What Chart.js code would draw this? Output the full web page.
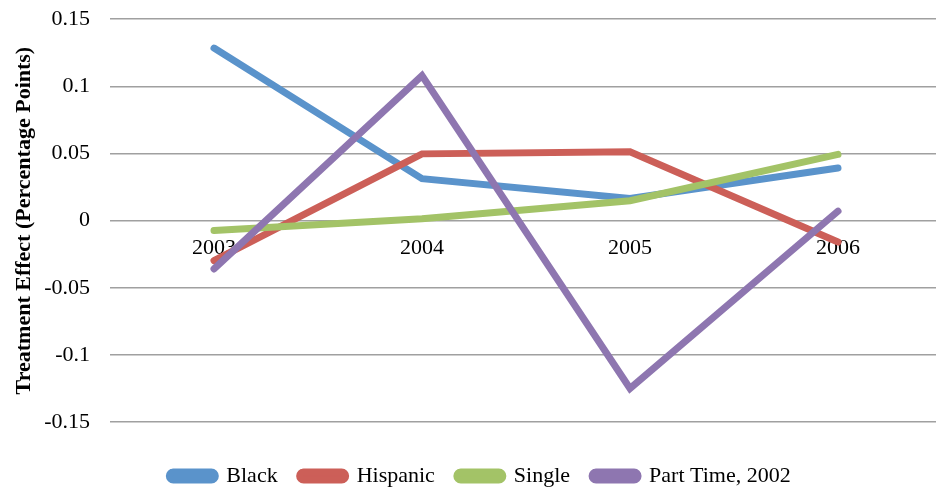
<!DOCTYPE html>
<html>
<head>
<meta charset="utf-8">
<script src="https://cdn.jsdelivr.net/npm/chart.js@4/dist/chart.umd.min.js"></script>
<style>
  html, body { margin: 0; padding: 0; background: #ffffff; overflow: hidden; }
  #wrap { position: relative; width: 944px; height: 511px; margin-top: -14px; }
</style>
</head>
<body>
<div id="wrap"><canvas id="chart"></canvas></div>
<script>
// Years on the category axis
const years = ['2003', '2004', '2005', '2006'];

// Estimated treatment effects by subgroup
const black    = [0.1285, 0.0312, 0.0165, 0.0392];
const hispanic = [-0.0298, 0.0497, 0.0512, -0.0160];
const single   = [-0.0074, 0.0014, 0.0148, 0.0493];
const partTime = [-0.0360, 0.1080, -0.1250, 0.0070];

// Value-axis ticks
const yTicks = [-0.15, -0.1, -0.05, 0, 0.05, 0.1, 0.15];

const serif = "'Liberation Serif', 'Times New Roman', serif";

function series(label, data, color, order) {
  return {
    label, data, order,
    borderColor: color,
    backgroundColor: color,
    borderWidth: 7,
    borderCapStyle: 'round',
    borderJoinStyle: 'miter',
    pointRadius: 0,
    pointHoverRadius: 0,
    tension: 0,
    fill: false
  };
}

// Nudge the legend row slightly to the right of the canvas centre
const legendNudge = {
  id: 'legendNudge',
  afterLayout(chart) {
    if (chart.legend) {
      chart.legend.left += 9;
      chart.legend.right += 9;
    }
  }
};

new Chart(document.getElementById('chart'), {
  type: 'line',
  data: {
    labels: years,
    datasets: [
      series('Black', black, '#5A93CB', 4),
      series('Hispanic', hispanic, '#CC5F58', 3),
      series('Single', single, '#A3C367', 2),
      series('Part Time, 2002', partTime, '#8E76B0', 1)
    ]
  },
  plugins: [legendNudge],
  options: {
    responsive: true,
    maintainAspectRatio: false,
    animation: false,
    layout: { padding: { top: 3, right: 2, bottom: 0, left: 0 } },
    plugins: {
      tooltip: { enabled: false },
      legend: {
        position: 'bottom',
        title: {
          display: true,
          text: ' ',
          font: { size: 10 },
          padding: 4.5
        },
        labels: {
          font: { family: serif, size: 22, lineHeight: 1 },
          color: '#000000',
          boxWidth: 46,
          boxHeight: 8,
          useBorderRadius: true,
          borderRadius: 4,
          padding: 22,
          sort: (a, b) => a.datasetIndex - b.datasetIndex
        }
      }
    },
    scales: {
      x: {
        type: 'category',
        position: { y: 0 },
        offset: true,
        grid: { display: false, drawTicks: false },
        border: { display: false },
        ticks: {
          font: { family: serif, size: 22 },
          color: '#000000',
          padding: 14,
          maxRotation: 0
        }
      },
      y: {
        min: -0.15,
        max: 0.15,
        afterBuildTicks: (scale) => { scale.ticks = yTicks.map(v => ({ value: v })); },
        afterFit: (scale) => { scale.width = 110; },
        grid: { color: '#a0a0a0', lineWidth: 1.6, drawTicks: false },
        border: { display: false },
        ticks: {
          font: { family: serif, size: 22 },
          color: '#000000',
          padding: 20,
          callback: (v) => String(Math.round(v * 100) / 100)
        },
        title: {
          display: true,
          text: 'Treatment Effect (Percentage Points)',
          font: { family: serif, size: 22, weight: 'bold' },
          color: '#000000',
          padding: { top: 11, bottom: 6 }
        }
      }
    }
  }
});
</script>
</body>
</html>
